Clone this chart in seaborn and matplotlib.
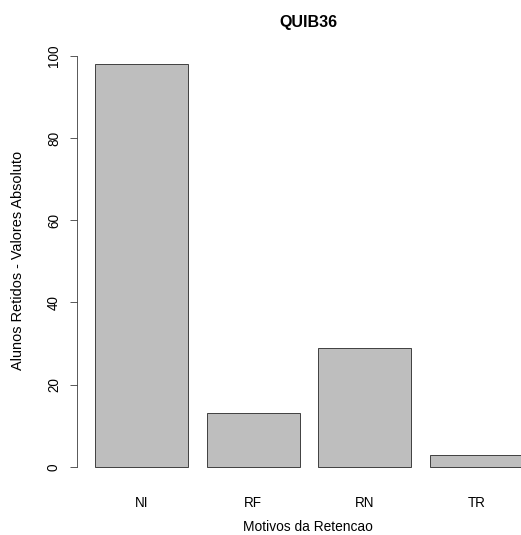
import pandas as pd
import matplotlib
matplotlib.use("Agg")
import matplotlib.pyplot as plt
import seaborn as sns

# data
motivos = ["NI", "RF", "RN", "TR"]
alunos = [98, 13, 29, 3]
y_ticks = [0, 20, 40, 60, 80, 100]

df = pd.DataFrame({"motivo": motivos, "alunos": alunos})

sns.set_theme(style="white")
plt.rcParams['font.family'] = ['Liberation Sans', 'DejaVu Sans']
plt.rcParams['text.color'] = 'black'
plt.rcParams['xtick.color'] = 'black'
plt.rcParams['ytick.color'] = 'black'

DPI = 72
fig = plt.figure(figsize=(521 / DPI, 535 / DPI), dpi=DPI)
# plot region reaches past the right edge, as in the original (cropped) image
ax = fig.add_axes([77 / 521, 1 - 483 / 535, (543.6 - 77) / 521, (483 - 48) / 535])

sns.barplot(data=df, x="motivo", y="alunos", ax=ax, color="#bebebe",
            width=0.833, edgecolor="#444444", linewidth=1.0, saturation=1)

ax.set_xlim(-0.577, 3.6)
ax.set_ylim(-3.92, 101.92)

for s in ["top", "right", "bottom"]:
    ax.spines[s].set_visible(False)
ax.spines["left"].set_bounds(0, 100)
ax.spines["left"].set_color("#333333")
ax.spines["left"].set_linewidth(0.8)

ax.set_yticks(y_ticks)
ax.set_yticklabels([str(t) for t in y_ticks], rotation=90, va="center", fontsize=13.5)
ax.tick_params(axis="y", direction="out", length=7, width=0.8, color="#333333", pad=9, left=True)
ax.tick_params(axis="x", length=0, pad=13, labelsize=13.5)

ax.set_xlabel("")
ax.set_ylabel("")
fig.text(18 / 521, 1 - 260 / 535, "Alunos Retidos - Valores Absoluto", rotation=90,
         ha="center", va="center", fontsize=14.5)
fig.text(308 / 521, 1 - 527 / 535, "Motivos da Retencao", ha="center", va="center", fontsize=13.8)
fig.text(308 / 521, 1 - 22 / 535, "QUIB36", ha="center", va="center", fontsize=16, fontweight="bold")

fig.savefig("out.png", dpi=DPI)
